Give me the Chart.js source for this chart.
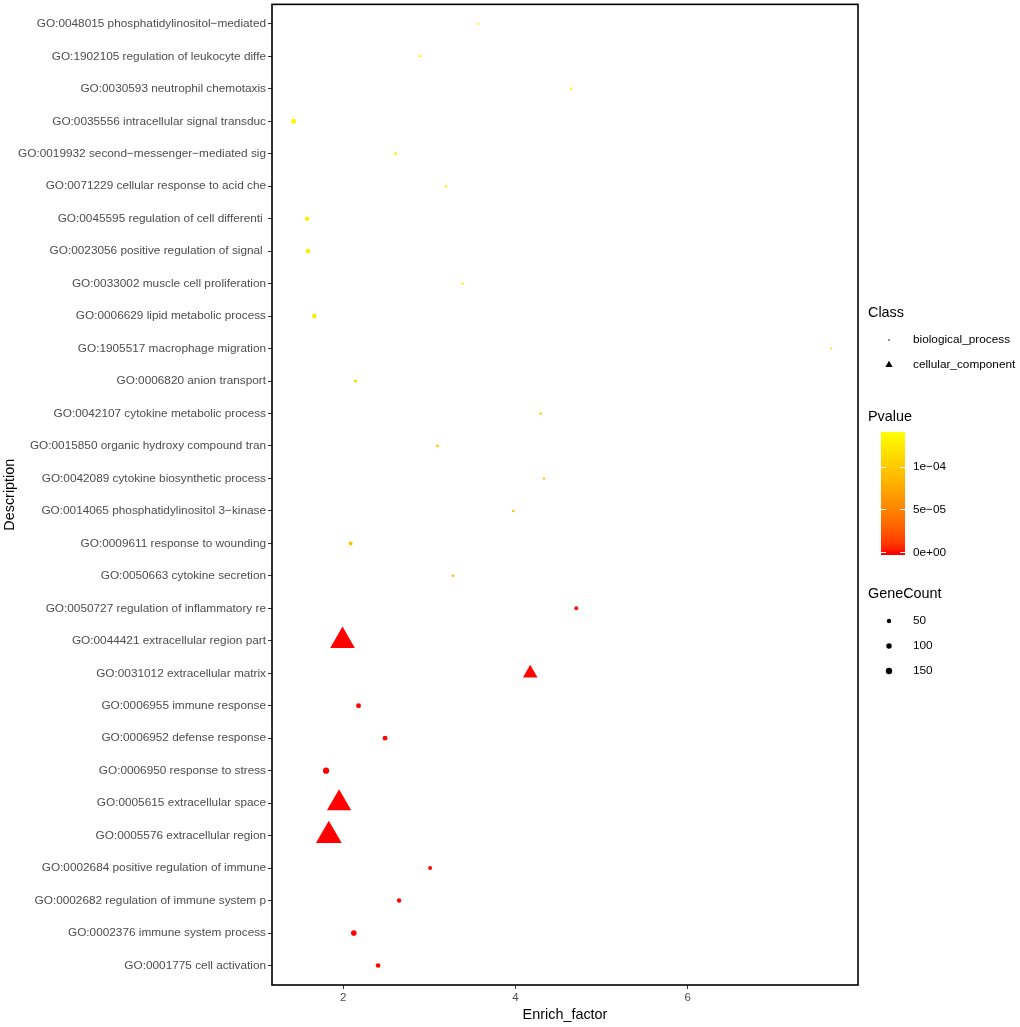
<!DOCTYPE html>
<html>
<head>
<meta charset="utf-8">
<script src="https://cdn.jsdelivr.net/npm/chart.js@4"></script>
<style>
  html, body { margin: 0; padding: 0; background: #fff; }
  #wrap { width: 1020px; height: 1027px; }
</style>
</head>
<body>
<div id="wrap"><canvas id="Chart_GO" width="1020" height="1027"></canvas></div>
<script>
// GO terms, top to bottom
const descriptions = [
  'GO:0048015 phosphatidylinositol\u2212mediated',
  'GO:1902105 regulation of leukocyte diffe',
  'GO:0030593 neutrophil chemotaxis',
  'GO:0035556 intracellular signal transduc',
  'GO:0019932 second\u2212messenger\u2212mediated sig',
  'GO:0071229 cellular response to acid che',
  'GO:0045595 regulation of cell differenti ',
  'GO:0023056 positive regulation of signal ',
  'GO:0033002 muscle cell proliferation',
  'GO:0006629 lipid metabolic process',
  'GO:1905517 macrophage migration',
  'GO:0006820 anion transport',
  'GO:0042107 cytokine metabolic process',
  'GO:0015850 organic hydroxy compound tran',
  'GO:0042089 cytokine biosynthetic process',
  'GO:0014065 phosphatidylinositol 3\u2212kinase',
  'GO:0009611 response to wounding',
  'GO:0050663 cytokine secretion',
  'GO:0050727 regulation of inflammatory re',
  'GO:0044421 extracellular region part',
  'GO:0031012 extracellular matrix',
  'GO:0006955 immune response',
  'GO:0006952 defense response',
  'GO:0006950 response to stress',
  'GO:0005615 extracellular space',
  'GO:0005576 extracellular region',
  'GO:0002684 positive regulation of immune',
  'GO:0002682 regulation of immune system p',
  'GO:0002376 immune system process',
  'GO:0001775 cell activation'
];
const enrichFactor = [
  3.568, 2.893, 4.645, 1.423, 2.607, 3.193, 1.580, 1.589, 3.384, 1.664,
  7.668, 2.143, 4.292, 3.094, 4.331, 3.974, 2.085, 3.273, 4.706, 1.991,
  4.171, 2.177, 2.485, 1.800, 1.951, 1.832, 3.008, 2.648, 2.122, 2.404
];
const pValue = [
  1.41e-4, 1.39e-4, 1.37e-4, 1.35e-4, 1.33e-4, 1.31e-4, 1.29e-4, 1.27e-4, 1.25e-4, 1.23e-4,
  1.18e-4, 1.12e-4, 1.00e-4, 9.8e-5, 9.6e-5, 9.4e-5, 9.2e-5, 9.0e-5, 2.0e-6, 1.0e-7,
  5.0e-7, 4.0e-7, 3.0e-7, 2.0e-8, 1.0e-9, 1.0e-10, 8.0e-7, 6.0e-7, 1.0e-8, 3.0e-7
];
const geneCount = [
  3, 6, 3, 75, 8, 4, 57, 57, 3, 58,
  2, 16, 4, 8, 3, 5, 36, 5, 36, 149,
  30, 70, 64, 138, 144, 170, 36, 50, 104, 57
];
const termClass = [
  'biological_process', 'biological_process', 'biological_process', 'biological_process', 'biological_process',
  'biological_process', 'biological_process', 'biological_process', 'biological_process', 'biological_process',
  'biological_process', 'biological_process', 'biological_process', 'biological_process', 'biological_process',
  'biological_process', 'biological_process', 'biological_process', 'biological_process', 'cellular_component',
  'cellular_component', 'biological_process', 'biological_process', 'biological_process', 'cellular_component',
  'cellular_component', 'biological_process', 'biological_process', 'biological_process', 'biological_process'
];
const classNames = ['biological_process', 'cellular_component'];
const xTicks = [2, 4, 6];
const pLegendTicks = [1e-4, 5e-5, 0];
const pLegendLabels = ['1e\u221204', '5e\u221205', '0e+00'];
const countLegend = [50, 100, 150];

const P_MAX = Math.max(...pValue);
const P_MIN = 0;
const FONT = '"Liberation Sans", Arial, sans-serif';

// red -> yellow gradient, interpolated in Lab like ggplot
function toLab(r, g, b) {
  const lin = c => { c /= 255; return c <= 0.04045 ? c / 12.92 : Math.pow((c + 0.055) / 1.055, 2.4); };
  const R = lin(r), G = lin(g), B = lin(b);
  const X = (0.4124 * R + 0.3576 * G + 0.1805 * B) / 0.95047;
  const Y = (0.2126 * R + 0.7152 * G + 0.0722 * B);
  const Z = (0.0193 * R + 0.1192 * G + 0.9505 * B) / 1.08883;
  const f = t => t > 0.008856 ? Math.cbrt(t) : 7.787 * t + 16 / 116;
  const fx = f(X), fy = f(Y), fz = f(Z);
  return [116 * fy - 16, 500 * (fx - fy), 200 * (fy - fz)];
}
function fromLab(L, a, b) {
  const fy = (L + 16) / 116, fx = fy + a / 500, fz = fy - b / 200;
  const fi = t => t > 0.206893 ? t * t * t : (t - 16 / 116) / 7.787;
  const X = fi(fx) * 0.95047, Y = fi(fy), Z = fi(fz) * 1.08883;
  let R = 3.2406 * X - 1.5372 * Y - 0.4986 * Z;
  let G = -0.9689 * X + 1.8758 * Y + 0.0415 * Z;
  let B = 0.0557 * X - 0.2040 * Y + 1.0570 * Z;
  const gam = c => { c = c <= 0.0031308 ? 12.92 * c : 1.055 * Math.pow(c, 1 / 2.4) - 0.055; return Math.round(Math.min(1, Math.max(0, c)) * 255); };
  return 'rgb(' + gam(R) + ',' + gam(G) + ',' + gam(B) + ')';
}
const labLow = toLab(255, 0, 0), labHigh = toLab(255, 255, 0);
function pColor(p) {
  const t = Math.min(1, Math.max(0, (p - P_MIN) / (P_MAX - P_MIN)));
  return fromLab(labLow[0] + (labHigh[0] - labLow[0]) * t,
                 labLow[1] + (labHigh[1] - labLow[1]) * t,
                 labLow[2] + (labHigh[2] - labLow[2]) * t);
}
function countRadius(n) { return 0.835 + 0.193 * Math.sqrt(n); }
const TRIANGLE_SCALE = 4.45;

const datasets = classNames.map(cls => {
  const idx = descriptions.map((d, i) => i).filter(i => termClass[i] === cls);
  const tri = cls === 'cellular_component';
  return {
    label: cls,
    data: idx.map(i => ({ x: enrichFactor[i], y: i + 1 })),
    pointStyle: tri ? 'triangle' : 'circle',
    pointRadius: idx.map(i => countRadius(geneCount[i]) * (tri ? TRIANGLE_SCALE : 1)),
    backgroundColor: idx.map(i => pColor(pValue[i])),
    borderWidth: 0,
    borderColor: 'rgba(0,0,0,0)'
  };
});

// panel border and manual legends
const ggExtras = {
  id: 'ggExtras',
  afterDraw(chart) {
    const ctx = chart.ctx, a = chart.chartArea;
    ctx.save();
    ctx.strokeStyle = '#000';
    ctx.lineWidth = 1.6;
    ctx.strokeRect(a.left, a.top, a.right - a.left, a.bottom - a.top);

    ctx.fillStyle = '#000';
    ctx.textBaseline = 'middle';
    ctx.textAlign = 'left';
    const keyX = 889, txtX = 913;
    const legendFont = '11.8px ' + FONT, legendTitle = '14.4px ' + FONT;

    // Class
    ctx.font = legendTitle;
    ctx.fillText('Class', 868, 313);
    ctx.font = legendFont;
    ctx.beginPath(); ctx.arc(keyX, 340, 0.8, 0, Math.PI * 2); ctx.fill();
    ctx.fillText(classNames[0], txtX, 340);
    const tr = 4.2, ty = 365;
    ctx.beginPath();
    ctx.moveTo(keyX, ty - tr);
    ctx.lineTo(keyX + tr * 0.866, ty + tr * 0.5);
    ctx.lineTo(keyX - tr * 0.866, ty + tr * 0.5);
    ctx.closePath(); ctx.fill();
    ctx.fillText(classNames[1], txtX, 365);

    // Pvalue colourbar
    ctx.font = legendTitle;
    ctx.fillText('Pvalue', 868, 417);
    const barL = 881, barR = 905, barTop = 432, barBot = 555;
    const yOfP = p => 552.3 - (p / 5e-5) * 42.8;
    for (let y = barTop; y < barBot; y++) {
      const p = Math.max(0, (552.3 - (y + 0.5)) / 42.8 * 5e-5);
      ctx.fillStyle = pColor(p);
      ctx.fillRect(barL, y, barR - barL, 1);
    }
    ctx.strokeStyle = '#fff';
    ctx.lineWidth = 1;
    ctx.font = legendFont;
    pLegendTicks.forEach((p, k) => {
      const y = Math.round(yOfP(p)) + 0.5;
      ctx.beginPath();
      ctx.moveTo(barL, y); ctx.lineTo(barL + 5, y);
      ctx.moveTo(barR - 5, y); ctx.lineTo(barR, y);
      ctx.stroke();
      ctx.fillStyle = '#000';
      ctx.fillText(pLegendLabels[k], txtX, yOfP(p));
    });

    // GeneCount
    ctx.fillStyle = '#000';
    ctx.font = legendTitle;
    ctx.fillText('GeneCount', 868, 594);
    ctx.font = legendFont;
    countLegend.forEach((n, k) => {
      const y = 621 + k * 25;
      ctx.beginPath(); ctx.arc(keyX, y, countRadius(n), 0, Math.PI * 2); ctx.fill();
      ctx.fillText(String(n), txtX, y);
    });
    ctx.restore();
  }
};

const GOChart = new Chart(document.getElementById('Chart_GO').getContext('2d'), {
  type: 'scatter',
  data: { datasets: datasets },
  options: {
    responsive: false,
    animation: false,
    devicePixelRatio: 1,
    layout: { autoPadding: false, padding: { left: 0, right: 162, top: 4, bottom: 0 } },
    plugins: { legend: { display: false }, tooltip: { enabled: false } },
    scales: {
      x: {
        type: 'linear',
        min: 1.172,
        max: 7.978,
        afterBuildTicks: s => { s.ticks = xTicks.map(v => ({ value: v })); },
        afterFit: s => { s.height = 42; },
        border: { display: false },
        grid: { drawOnChartArea: false, drawTicks: true, tickLength: 4, color: '#333' },
        ticks: { color: '#4D4D4D', font: { family: FONT, size: 11.5 }, padding: 2 },
        title: { display: true, text: 'Enrich_factor', color: '#000', font: { family: FONT, size: 14.4, lineHeight: 1 }, padding: { top: 0, bottom: 5 } }
      },
      y: {
        type: 'linear',
        reverse: true,
        min: 0.4,
        max: descriptions.length + 0.6,
        afterBuildTicks: s => { s.ticks = descriptions.map((d, i) => ({ value: i + 1 })); },
        afterFit: s => { s.width = 272; },
        border: { display: false },
        grid: { drawOnChartArea: false, drawTicks: true, tickLength: 4, color: '#333' },
        ticks: {
          autoSkip: false,
          color: '#4D4D4D',
          font: { family: FONT, size: 11.8, lineHeight: 0.4 },
          padding: 2,
          callback: v => descriptions[Math.round(v) - 1]
        },
        title: { display: true, text: 'Description', color: '#000', font: { family: FONT, size: 14.4, lineHeight: 1 }, padding: { top: 3, bottom: 0 } }
      }
    }
  },
  plugins: [ggExtras]
});
</script>
</body>
</html>
